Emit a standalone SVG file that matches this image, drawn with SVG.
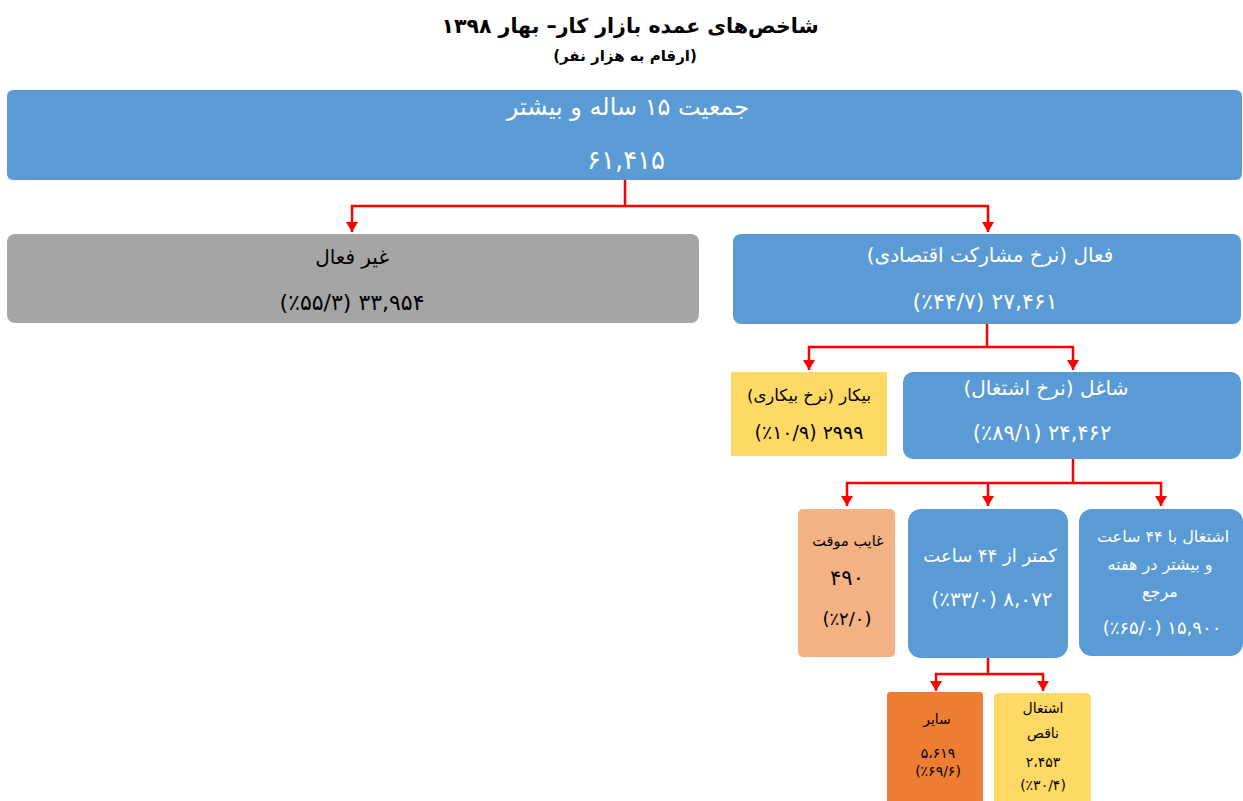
<svg xmlns="http://www.w3.org/2000/svg" width="1243" height="801" viewBox="0 0 1243 801">
<style>
text{font-family:"DejaVu Sans",sans-serif;text-anchor:middle;direction:rtl}
.t{font-weight:bold;fill:#000}
.w{fill:#fff}
.k{fill:#000}
.c{fill:none;stroke:#ff0000;stroke-width:2.5}
</style>
<defs>
<marker id="ah" markerUnits="userSpaceOnUse" markerWidth="12" markerHeight="10" viewBox="0 0 12 10" refX="6" refY="10" orient="0">
<path d="M0 0 L12 0 L6 10 Z" fill="#ff0000"/>
</marker>
</defs>
<rect width="1243" height="801" fill="#fff"/>
<g id="title">
<text class="t" x="630" y="33" font-size="20.5">شاخص‌های عمده بازار کار– بهار ۱۳۹۸</text>
<text class="t" x="625" y="61" font-size="15">(ارقام به هزار نفر)</text>
</g>
<g id="connectors">
<path class="c" d="M625 180 V206 H352 V232" marker-end="url(#ah)"/>
<path class="c" d="M625 206 H988 V232" marker-end="url(#ah)"/>
<path class="c" d="M987 324 V347 H809 V370" marker-end="url(#ah)"/>
<path class="c" d="M987 347 H1073 V370" marker-end="url(#ah)"/>
<path class="c" d="M1073 459 V483 H847 V506" marker-end="url(#ah)"/>
<path class="c" d="M988 483 V506" marker-end="url(#ah)"/>
<path class="c" d="M1073 483 H1161 V506" marker-end="url(#ah)"/>
<path class="c" d="M988 658 V674 H936 V691" marker-end="url(#ah)"/>
<path class="c" d="M988 674 H1043 V691" marker-end="url(#ah)"/>
</g>
<g id="pop15">
<rect x="7" y="90" width="1235" height="90" rx="6" fill="#5b9bd5"/>
<text class="w" x="628" y="115" font-size="24">جمعیت ۱۵ ساله و بیشتر</text>
<text class="w" x="626" y="169" font-size="26">۶۱,۴۱۵</text>
</g>
<g id="inactive">
<rect x="7" y="234" width="692" height="89" rx="8" fill="#a5a5a5"/>
<text class="k" x="352" y="264" font-size="20">غیر فعال</text>
<text class="k" x="352" y="310" font-size="22">۳۳,۹۵۴ (٪۵۵/۳)</text>
</g>
<g id="active">
<rect x="733" y="234" width="508" height="90" rx="8" fill="#5b9bd5"/>
<text class="w" x="990" y="262" font-size="20">فعال (نرخ مشارکت اقتصادی)</text>
<text class="w" x="985" y="309" font-size="22">۲۷,۴۶۱ (٪۴۴/۷)</text>
</g>
<g id="unemployed">
<rect x="731" y="372" width="156" height="84" fill="#ffd966"/>
<text class="k" x="809" y="401" font-size="16.5">بیکار (نرخ بیکاری)</text>
<text class="k" x="809" y="439" font-size="19">۲۹۹۹ (٪۱۰/۹)</text>
</g>
<g id="employed">
<rect x="903" y="372" width="338" height="87" rx="10" fill="#5b9bd5"/>
<text class="w" x="1046" y="395" font-size="20">شاغل (نرخ اشتغال)</text>
<text class="w" x="1042" y="440" font-size="21">۲۴,۴۶۲ (٪۸۹/۱)</text>
</g>
<g id="absent">
<rect x="798" y="509" width="97" height="148" rx="5" fill="#f4b183"/>
<text class="k" x="848" y="546" font-size="14.5">غایب موقت</text>
<text class="k" x="847" y="585" font-size="21">۴۹۰</text>
<text class="k" x="847" y="625" font-size="18">(٪۲/۰)</text>
</g>
<g id="under44">
<rect x="908" y="509" width="160" height="149" rx="13" fill="#5b9bd5"/>
<text class="w" x="990" y="562" font-size="18">کمتر از ۴۴ ساعت</text>
<text class="w" x="992" y="606" font-size="20">۸,۰۷۲  (٪۳۳/۰)</text>
</g>
<g id="over44">
<rect x="1079" y="509" width="164" height="147" rx="13" fill="#5b9bd5"/>
<text class="w" x="1163" y="542" font-size="16">اشتغال با ۴۴ ساعت</text>
<text class="w" x="1160" y="570" font-size="16">و بیشتر در هفته</text>
<text class="w" x="1160" y="597" font-size="16">مرجع</text>
<text class="w" x="1162" y="634" font-size="18">۱۵,۹۰۰  (٪۶۵/۰)</text>
</g>
<g id="other">
<rect x="887" y="692" width="96" height="112" rx="3" fill="#ed7d31"/>
<text class="k" x="937" y="724" font-size="14">سایر</text>
<text class="k" x="938" y="758" font-size="14">۵،۶۱۹</text>
<text class="k" x="938" y="776" font-size="14">(٪۶۹/۶)</text>
</g>
<g id="underemployed">
<rect x="994" y="693" width="97" height="112" rx="5" fill="#ffd966"/>
<text class="k" x="1043" y="713" font-size="14">اشتغال</text>
<text class="k" x="1043" y="738" font-size="14">ناقص</text>
<text class="k" x="1043" y="767" font-size="14">۲،۴۵۳</text>
<text class="k" x="1043" y="790" font-size="14">(٪۳۰/۴)</text>
</g>
</svg>
